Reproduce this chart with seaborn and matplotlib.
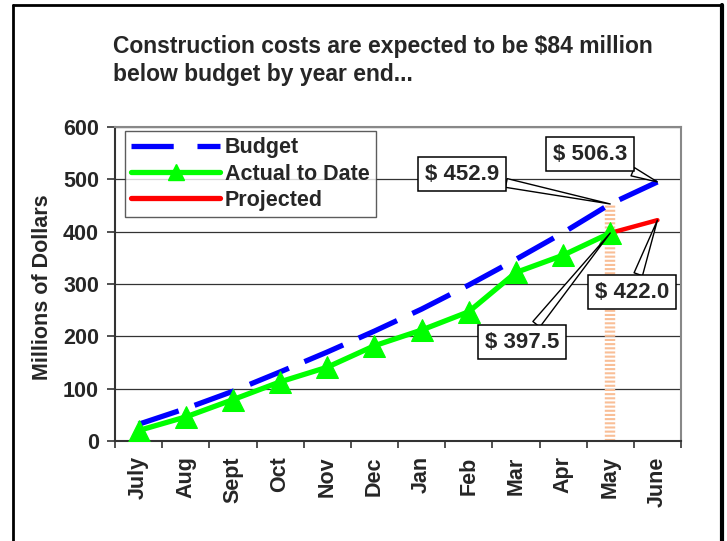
import matplotlib
matplotlib.use("Agg")
import matplotlib.pyplot as plt
from matplotlib.lines import Line2D
from matplotlib.ticker import FixedLocator
import numpy as np
import pandas as pd
import seaborn as sns

# ---- data ----
months = ["July", "Aug", "Sept", "Oct", "Nov", "Dec", "Jan", "Feb", "Mar", "Apr", "May", "June"]
budget = [32, 62, 95, 132, 170, 210, 252, 298, 347, 398, 452.9, 495]
actual = [20, 46, 79, 113, 141, 182, 212, 247, 322, 355, 397.5]
projected_months = ["May", "June"]
projected = [397.5, 422.0]
callout_texts = ["$ 452.9", "$ 506.3", "$ 397.5", "$ 422.0"]
title_lines = ["Construction costs are expected to be $84 million",
               "below budget by year end..."]
y_ticks = [0, 100, 200, 300, 400, 500, 600]

W, H = 727, 541
sns.set_theme(style="white")
plt.rcParams["font.family"] = ["Liberation Sans", "DejaVu Sans"]
plt.rcParams["font.weight"] = "bold"

fig = plt.figure(figsize=(W / 100, H / 100), dpi=100)
fig.patch.set_facecolor("white")
ax = fig.add_axes([115 / W, 1 - 441 / H, 566 / W, 314 / H])
ax.set_facecolor("white")

pos = {m: i for i, m in enumerate(months)}
df_budget = pd.DataFrame({"x": [pos[m] for m in months], "y": budget})
df_actual = pd.DataFrame({"x": [pos[m] for m in months[:len(actual)]], "y": actual})
df_proj = pd.DataFrame({"x": [pos[m] for m in projected_months], "y": projected})

ax.set_xlim(-0.5, len(months) - 0.5)
ax.set_ylim(0, 600)

# grid
for v in y_ticks[1:]:
    ax.axhline(v, color="#333333", lw=0.9, zorder=1)

# orange highlight bar at May
may = pos["May"]
ax.vlines(may, 0, budget[may], colors="#F9BE96", lw=7.5,
          linestyles=(0, (0.2, 0.2)), zorder=2)

# lines
sns.lineplot(data=df_budget, x="x", y="y", ax=ax, color="#0000FF", lw=3.8,
             zorder=3)
ax.lines[-1].set_dashes([8, 3.2])
ax.lines[-1].set_solid_capstyle("butt")
sns.lineplot(data=df_proj, x="x", y="y", ax=ax, color="#FF0000", lw=3.2,
             zorder=4)
sns.lineplot(data=df_actual, x="x", y="y", ax=ax, color="#00FF00", lw=3.8,
             marker="^", markersize=16, markerfacecolor="#00FF00",
             markeredgecolor="#00FF00", zorder=5)

# legend
h_budget = Line2D([], [], color="#0000FF", lw=3.8, dashes=[8, 4.5])
h_actual = Line2D([], [], color="#00FF00", lw=3.8, marker="^", markersize=11)
h_proj = Line2D([], [], color="#FF0000", lw=3.8)
leg = ax.legend([h_budget, h_actual, h_proj], ["Budget", "Actual to Date", "Projected"],
                loc="upper left", bbox_to_anchor=(10 / 566, 1 - 4 / 314),
                borderaxespad=0, frameon=True, fancybox=False,
                prop={"size": 15.5, "weight": "bold"}, handlelength=4.1,
                handletextpad=0.25, labelspacing=0.24, borderpad=0.3)
leg.get_frame().set_edgecolor("#333333")
leg.get_frame().set_linewidth(1.0)

# axes styling
ax.set_yticks(y_ticks)
ax.set_yticklabels([str(v) for v in y_ticks], fontsize=15.5, fontweight="bold")
ax.set_xticks(range(len(months)))
ax.set_xticklabels(months, rotation=90, fontsize=15.5, fontweight="bold", va="top")
ax.xaxis.set_minor_locator(FixedLocator(np.arange(-0.5, len(months), 1)))
ax.tick_params(axis="x", which="major", length=0, pad=11)
ax.tick_params(axis="x", which="minor", length=5, width=1.2, color="#333333", direction="out", bottom=True)
ax.tick_params(axis="y", which="major", length=5.5, width=1.2, color="#333333", direction="out", left=True, pad=6)
ax.set_xlabel("")
ax.set_ylabel("Millions of Dollars", fontsize=15.5, fontweight="bold", va="center")
ax.yaxis.set_label_coords(-72 / 566, 0.49)
for s in ["left", "bottom"]:
    ax.spines[s].set_color("#333333")
    ax.spines[s].set_linewidth(1.5)
for s in ["top", "right"]:
    ax.spines[s].set_color("#888888")
    ax.spines[s].set_linewidth(1.5)

# callouts
targets = [(pos["May"], budget[pos["May"]]), (pos["June"], budget[pos["June"]]),
           (pos["May"], projected[0]), (pos["June"], projected[1])]
box_centers = [(462, H - 174), (590, H - 154), (522, H - 342), (632, H - 292)]
for txt, xy, bc in zip(callout_texts, targets, box_centers):
    ax.annotate(txt, xy=xy, xycoords="data", xytext=bc, textcoords="figure pixels",
                ha="center", va="center", fontsize=16, fontweight="bold",
                bbox=dict(boxstyle="square,pad=0.3", fc="white", ec="black", lw=1.1),
                arrowprops=dict(arrowstyle="wedge,tail_width=0.4", fc="white",
                                ec="black", lw=1.0, shrinkA=0, shrinkB=0),
                zorder=10)

# title
fig.text(113 / W, 1 - 47 / H, title_lines[0], fontsize=16.5, fontweight="bold",
         ha="left", va="center")
fig.text(113 / W, 1 - 75 / H, title_lines[1], fontsize=16.5, fontweight="bold",
         ha="left", va="center")

# outer border
fig.add_artist(Line2D([13 / W, 13 / W], [0, 1 - 5 / H], color="black", lw=2, transform=fig.transFigure))
fig.add_artist(Line2D([13 / W, 722 / W], [1 - 5 / H, 1 - 5 / H], color="black", lw=2, transform=fig.transFigure))
fig.add_artist(Line2D([722 / W, 722 / W], [0, 1 - 5 / H], color="black", lw=3, transform=fig.transFigure))

fig.savefig("out.png", dpi=100)
